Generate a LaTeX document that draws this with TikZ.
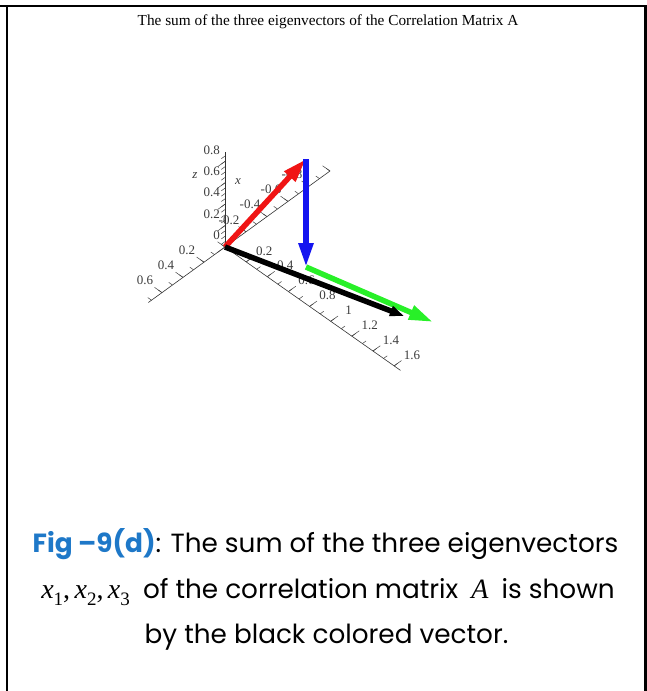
\documentclass[tikz,border=0pt]{standalone}
\usepackage{fontspec}
\setmainfont{Liberation Serif}
\newfontfamily\capfont{Poppins}
\newfontfamily\timesf{Liberation Serif}
\usetikzlibrary{arrows.meta, calc}

\definecolor{figblue}{RGB}{30,120,200}
\definecolor{vred}{RGB}{240,20,20}
\definecolor{vblue}{RGB}{20,20,240}
\definecolor{vgreen}{RGB}{40,240,40}
\definecolor{lblgray}{RGB}{60,60,60}

% subscripted eigenvector name
\newcommand\xsub[1]{{\timesf\itshape\fontsize{28}{28}\selectfont x}\raisebox{-0.3em}{\timesf\fontsize{19}{19}\selectfont #1}}

\begin{document}
\begin{tikzpicture}[
    x=1pt, y=-1pt,
    frameline/.style={line width=2.4pt},
    axisline/.style={line width=0.6pt, black!80},
    tickmark/.style={line width=0.5pt, black!75},
    ticklabel/.style={font=\fontsize{13}{13}\selectfont, text=lblgray, inner sep=0pt},
    axisname/.style={font=\fontsize{13}{13}\selectfont\itshape, text=lblgray, inner sep=0pt},
    vec/.style={line width=5.5pt, -{Triangle[length=24pt,width=14pt]}},
    capline/.style={font=\capfont\fontsize{26.3}{26}\selectfont, anchor=base, inner sep=0pt}
  ]
  \useasboundingbox (0,0) rectangle (647,691);

  % frame, open at the bottom
  \draw[frameline] (0,6) -- (645.5,6) -- (645.5,691);
  \draw[frameline] (7,6) -- (7,691);

  % title
  \node[font=\fontsize{15.3}{16}\selectfont] (title) at (328,22)
    {The sum of the three eigenvectors of the Correlation Matrix A};

  % axes
  \coordinate (O) at (225,247);
  \begin{scope}[shift={(O)}, x={(-105pt,-76pt)}, y={(105.7pt,-74.3pt)}, z={(0pt,107pt)}]
    \coordinate (xfar)  at (-1,0,0);
    \coordinate (xnear) at (0.73,0,0);
    \coordinate (yend)  at (0,1.66,0);
    \coordinate (ztop)  at (0,0,0.89);
    \draw[axisline] (xfar) -- (xnear);
    \draw[axisline] (O) -- (yend);
    \draw[axisline] (O) -- (ztop);

    % ticks
    \foreach \i in {-10,...,7} \draw[tickmark] (\i/10,0,0) -- ++(0,-0.035,0);
    \foreach \i in {-5,...,3}  \draw[tickmark] (\i/5,0,0) -- ++(0,-0.07,0);
    \foreach \i in {1,...,16}  \draw[tickmark] (0,\i/10,0) -- ++(-0.035,0,0);
    \foreach \i in {1,...,8}   \draw[tickmark] (0,\i/5,0) -- ++(-0.07,0,0);
    \foreach \i in {1,...,17}  \draw[tickmark] (0,0,\i/20) -- ++(0.035,0,0);
    \foreach \i in {0,...,4}   \draw[tickmark] (0,0,\i/5) -- ++(0.07,0,0);

    % tick labels
    \foreach \v [count=\k] in {0.2,0.4,0.6,-0.2,-0.4,-0.6,-0.8}
      \node[ticklabel, xshift=-17pt, yshift=12pt] (xl\k) at (\v,0,0) {\v};
    \foreach \v [count=\k] in {0.2,0.4,0.6,0.8,1,1.2,1.4,1.6}
      \node[ticklabel, xshift=18pt, yshift=11pt] (yl\k) at (0,\v,0) {\v};
    \foreach \v [count=\k] in {0,0.2,0.4,0.6,0.8}
      \node[ticklabel, anchor=east, xshift=-5pt, yshift=11.5pt] (zl\k) at (0,0,\v) {\v};
  \end{scope}
  \node[axisname] (xname) at (238,182) {x};
  \node[axisname] (zname) at (195,176) {z};

  % eigenvectors and their sum
  \coordinate (R) at (306,159);
  \coordinate (B) at (306,267);
  \coordinate (G) at (433,322);
  \coordinate (S) at (404,316);
  \draw[vec, vgreen] (B) -- (G);
  \draw[vec, vred] (O) -- (R);
  \draw[vec, vblue] (R) -- (B);
  \draw[vec, black, -{Triangle[length=14pt,width=10pt]}] (O) -- (S);

  % caption
  \node[capline] (cap1) at (325.5,552)
    {\textbf{\color{figblue}Fig –9(d)}: The sum of the three eigenvectors};
  \node[capline] (cap2) at (328,598)
    {\xsub{1}{\timesf\fontsize{28}{28}\selectfont,}\,\xsub{2}{\timesf\fontsize{28}{28}\selectfont,}\,\xsub{3}\enspace of the correlation matrix\enspace{\timesf\itshape\fontsize{28}{28}\selectfont A}\enspace is shown};
  \node[capline] (cap3) at (326.5,643) {by the black colored vector.};
\end{tikzpicture}
\end{document}
